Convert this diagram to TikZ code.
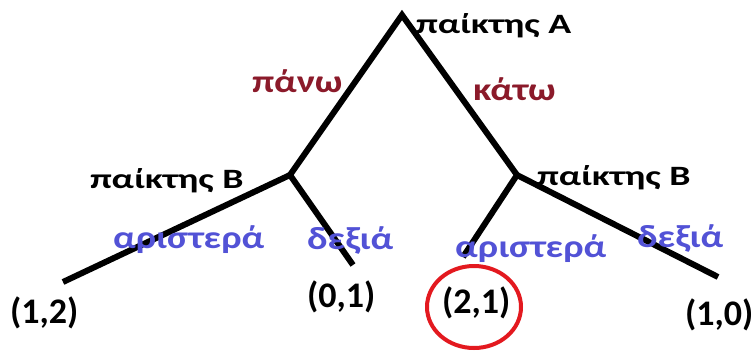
\documentclass[tikz,border=0pt]{standalone}
\usepackage{fontspec}
\setmainfont{Carlito}
\usepackage{tikz}
\usetikzlibrary{positioning}
\definecolor{movered}{HTML}{8B1A2A}
\definecolor{moveblue}{HTML}{5252D6}
\definecolor{ringred}{HTML}{E3191F}

\begin{document}
\begin{tikzpicture}[
    x=1pt, y=-1pt,
    branch/.style={line width=6pt, black},
    player/.style={font=\fontsize{28}{32}\selectfont\bfseries, anchor=base west, inner sep=0pt},
    movetop/.style={font=\fontsize{32}{36}\selectfont\bfseries, text=movered, anchor=base west, inner sep=0pt},
    movelow/.style={font=\fontsize{32}{36}\selectfont\bfseries, text=moveblue, anchor=base west, inner sep=0pt},
    payoff/.style={font=\fontsize{36}{40}\selectfont\bfseries, anchor=base west, inner sep=0pt}
]
\useasboundingbox (0,0) rectangle (752,351);

% tree points
\coordinate (rootA) at (402,15);
\coordinate (leftB) at (290,175);
\coordinate (rightB) at (517,175);
\coordinate (leafLL) at (63,282);
\coordinate (leafLR) at (353,265);
\coordinate (leafRL) at (463,257);
\coordinate (leafRR) at (718,277);

\draw[branch, line join=miter] (leftB) -- (rootA) -- (rightB);
\draw[branch] (leafLL) -- (leftB) -- (leafLR);
\draw[branch] (leafRL) -- (rightB) -- (leafRR);

% players
\node[player] (labA) at (416,33) {\scalebox{1.35}[1]{παίκτης A}};
\node[player] (labBl) at (90,188) {\scalebox{1.35}[1]{παίκτης B}};
\node[player] (labBr) at (537,185) {\scalebox{1.35}[1]{παίκτης B}};

% moves
\node[movetop] (up) at (252,92) {\scalebox{1.2}[1]{πάνω}};
\node[movetop] (down) at (473,100) {\scalebox{1.2}[1]{κάτω}};
\node[movelow] (leftL) at (113,248) {\scalebox{1.2}[1]{αριστερά}};
\node[movelow] (rightL) at (307,249) {\scalebox{1.2}[1]{δεξιά}};
\node[movelow] (leftR) at (455,257) {\scalebox{1.2}[1]{αριστερά}};
\node[movelow] (rightR) at (637,247) {\scalebox{1.2}[1]{δεξιά}};

% payoffs
\node[payoff] (payLL) at (10,323) {(1,2)};
\node[payoff] (payLR) at (307,307) {(0,1)};
\node[payoff] (payRL) at (442,313) {(2,1)};
\node[payoff] (payRR) at (685,325) {(1,0)};

\draw[ringred, line width=4pt] (474,307) ellipse (47 and 41);
\end{tikzpicture}
\end{document}
